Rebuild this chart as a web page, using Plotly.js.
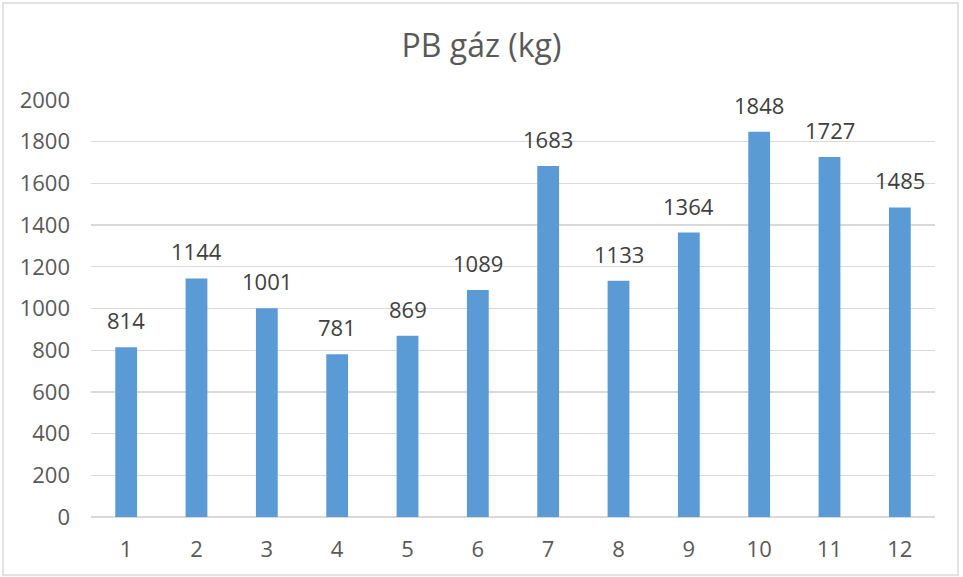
<!DOCTYPE html>
<html>
<head>
<meta charset="utf-8">
<script src="https://cdn.plot.ly/plotly-3.0.1.min.js"></script>
<style>
html,body{margin:0;padding:0;background:#fff;}
#chart{width:963px;height:577px;}
</style>
</head>
<body>
<div id="chart"></div>
<script>
var months = [1,2,3,4,5,6,7,8,9,10,11,12];
var values = [814,1144,1001,781,869,1089,1683,1133,1364,1848,1727,1485];
var yTicks = [0,200,400,600,800,1000,1200,1400,1600,1800,2000];
var titleText = 'PB gáz (kg)';

var W = 963, H = 577;
var m = {l:91, r:28, t:100, b:60};
var pw = W - m.l - m.r, ph = H - m.t - m.b;
function px(x){ return (x - m.l)/pw; }
function py(y){ return (H - m.b - y)/ph; }

var font = '"Open Sans", sans-serif';

var trace = {
  type:'bar',
  x: months,
  y: values,
  marker:{color:'#5b9bd5'},
  width:0.31,
  hoverinfo:'x+y'
};

var annotations = months.map(function(mo, i){
  return {x:mo, y:values[i], xref:'x', yref:'y', text:String(values[i]),
    showarrow:false, yanchor:'bottom', xanchor:'center', yshift:10,
    font:{family:font, size:22, color:'#404040'}};
});

var layout = {
  width:W, height:H,
  margin:m,
  paper_bgcolor:'#fff',
  plot_bgcolor:'#fff',
  showlegend:false,
  title:{text:titleText, font:{family:font, size:32, color:'#595959'}, x:0.5, xanchor:'center', y:1-46/H, yanchor:'middle'},
  xaxis:{
    type:'linear', range:[0.5,12.5], tickmode:'array', tickvals:months, ticktext:months.map(String),
    showgrid:false, zeroline:false, showline:false, ticks:'',
    ticklabelstandoff:17,
    tickfont:{family:font, size:22, color:'#595959'}
  },
  yaxis:{
    range:[0,2000], tickmode:'array', tickvals:yTicks, ticktext:yTicks.map(String),
    showgrid:true, gridcolor:'#d9d9d9', gridwidth:1.3, zeroline:true, zerolinecolor:'#d9d9d9', zerolinewidth:1.3,
    showline:false, ticks:'', ticklabelstandoff:20,
    tickfont:{family:font, size:22, color:'#595959'}
  },
  annotations: annotations,
  shapes:[{
    type:'rect', xref:'paper', yref:'paper',
    x0:px(3), x1:px(958), y0:py(575), y1:py(3),
    line:{color:'#d9d9d9', width:1.5}, fillcolor:'rgba(0,0,0,0)', layer:'below'
  }]
};

Plotly.newPlot('chart',[trace],layout,{displayModeBar:false, staticPlot:true});
</script>
</body>
</html>
